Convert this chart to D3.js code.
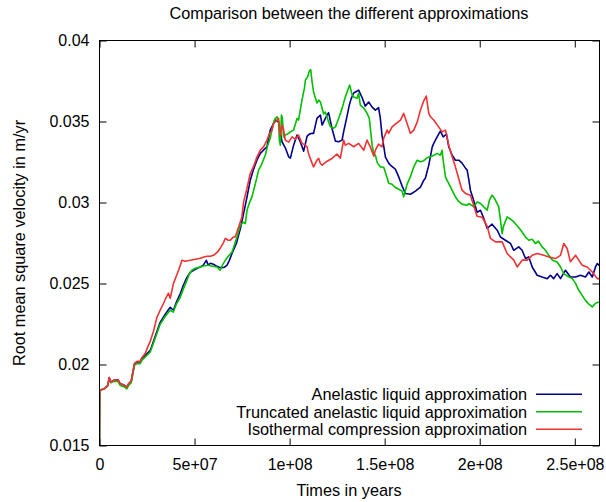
<!DOCTYPE html>
<html>
<head>
<meta charset="utf-8">
<script src="https://cdn.jsdelivr.net/npm/d3@7"></script>
<style>
  body { margin: 0; background: #fff; }
  svg text { font-family: "Liberation Sans", Arial, sans-serif; fill: #000; }
</style>
</head>
<body>
<svg id="chart" width="606" height="502"></svg>
<script>
// ---- data: time in millions of years, RMS velocity in m/yr ----
const anelasticT = [0, 0.1, 1.3, 3.0, 4.4, 5.1, 6.0, 7.4, 9.7, 10.9, 12.6, 14.4, 15.3, 16.7, 17.4, 18.4, 19.7, 21.4, 22.3,
  24.1, 26.7, 29.3, 31.9, 34.6, 37.2, 38.9, 40.4, 42.5, 44.1, 46.0, 47.7, 49.5, 51.4, 53.0, 54.6, 56.2, 57.2, 58.3, 59.9,
  61.8, 63.0, 64.4, 65.7, 67.1, 68.3, 69.7, 70.9, 72.0, 73.0, 74.1, 75.8, 77.6, 79.3, 80.9, 82.8, 84.6, 86.2, 88.1, 89.8,
  91.4, 92.5, 94.2, 95.1, 96.0, 97.7, 99.5, 100.4, 102.1, 103.9, 105.6, 107.4, 109.2, 110.4, 111.8, 112.6, 114.4, 116.2,
  117.1, 118.8, 120.5, 122.3, 124.1, 125.8, 127.6, 128.4, 130.2, 131.4, 132.3, 133.7, 134.6, 136.3, 138.1, 139.8, 141.6,
  143.4, 145.1, 146.8, 147.7, 148.6, 150.4, 152.1, 153.0, 155.6, 157.4, 159.2, 160.9, 163.6, 166.2, 168.8, 170.6, 171.4,
  173.2, 175.0, 175.8, 177.6, 179.3, 180.8, 182.5, 183.7, 185.5, 187.2, 189.0, 190.7, 192.5, 193.4, 194.3, 195.1, 196.8,
  198.6, 200.4, 202.1, 203.9, 206.5, 209.2, 210.9, 213.5, 216.2, 217.9, 220.5, 222.3, 224.1, 225.8, 227.6, 230.2, 232.8,
  235.5, 237.2, 238.9, 240.7, 242.5, 245.1, 247.7, 250.4, 253.0, 255.6, 257.4, 259.2, 260.9, 261.8, 263.5];
const anelasticV = [0.015, 0.0184, 0.01846, 0.01854, 0.01871, 0.01919, 0.01891, 0.01902, 0.01906, 0.01881, 0.01875, 0.0186, 0.01881, 0.01898, 0.01943, 0.02005, 0.02015, 0.02015, 0.02036,
  0.02056, 0.02087, 0.02174, 0.0226, 0.0231, 0.02353, 0.02335, 0.02384, 0.02438, 0.02489, 0.02538, 0.02569, 0.02582, 0.02594, 0.02602, 0.02613, 0.02643, 0.02613, 0.02625, 0.02619,
  0.02606, 0.026, 0.02598, 0.026, 0.02613, 0.02643, 0.02685, 0.02718, 0.02747, 0.02792, 0.02839, 0.02932, 0.03035, 0.03138, 0.032, 0.03261, 0.03303, 0.03323, 0.03344, 0.03447,
  0.03484, 0.03509, 0.03496, 0.03435, 0.03375, 0.03339, 0.03282, 0.03274, 0.03354, 0.03416, 0.03375, 0.03317, 0.0341, 0.03422, 0.03427, 0.03427, 0.03519, 0.0354,
  0.03478, 0.03519, 0.03555, 0.03457, 0.03379, 0.03375, 0.03385, 0.03436, 0.03533, 0.03601, 0.03638, 0.03676, 0.03682, 0.03694, 0.03648, 0.03595, 0.0362,
  0.03589, 0.0357, 0.03586, 0.03521, 0.03416, 0.0328, 0.03243, 0.03231, 0.03206, 0.03158, 0.03101, 0.03056, 0.03051, 0.0307, 0.03095, 0.03138, 0.0315,
  0.03231, 0.03342, 0.03365, 0.03405, 0.03441, 0.03405, 0.03422, 0.03344, 0.03292, 0.03261, 0.03261, 0.03243, 0.03212, 0.032, 0.03138, 0.03076, 0.03014,
  0.0294, 0.02952, 0.02903, 0.02841, 0.02866, 0.02829, 0.02787, 0.02767, 0.02747, 0.02705, 0.02726, 0.02705, 0.02654, 0.02664, 0.02602, 0.02551, 0.0254,
  0.0253, 0.02551, 0.0253, 0.02561, 0.0253, 0.02582, 0.0254, 0.0254, 0.02551, 0.0254, 0.02571, 0.0254, 0.02602, 0.02623, 0.02606];

const truncatedT = [0, 0.1, 1.3, 3.0, 4.4, 5.1, 6.0, 7.4, 9.7, 10.9, 12.6, 14.4, 15.3, 16.7, 17.4, 18.4, 19.7, 21.4, 22.3,
  24.1, 26.7, 29.3, 31.9, 34.6, 37.2, 38.8, 40.4, 42.5, 44.1, 46.0, 47.2, 48.6, 50.4, 53.0, 55.1, 57.4, 59.3, 61.8, 63.5,
  64.6, 66.2, 67.7, 69.7, 70.9, 72.3, 74.1, 75.6, 76.7, 77.6, 78.8, 80.2, 82.0, 83.7, 85.1, 87.2, 88.5, 89.8, 91.6, 92.5,
  93.4, 94.2, 94.6, 95.1, 95.7, 96.2, 96.8, 97.7, 99.5, 100.4, 102.1, 103.9, 104.7, 106.5, 107.8, 108.3, 109.5, 110.4,
  111.1, 111.7, 112.6, 114.4, 115.3, 116.2, 117.9, 118.8, 120.5, 121.4, 123.2, 124.1, 125.8, 127.6, 129.3, 130.6, 131.6,
  132.9, 133.7, 135.5, 136.3, 137.2, 139.0, 140.7, 141.9, 143.4, 144.1, 145.1, 146.2, 147.7, 149.5, 151.3, 152.1, 153.9,
  155.6, 157.4, 159.2, 160.0, 161.8, 163.5, 165.3, 167.1, 168.8, 170.6, 172.4, 174.1, 175.8, 177.6, 179.3, 180.2, 180.9,
  182.0, 184.6, 187.2, 188.8, 190.7, 193.4, 194.3, 196.9, 198.6, 200.4, 202.1, 203.9, 205.1, 206.5, 207.7, 210.0, 210.9,
  211.8, 212.5, 214.4, 216.2, 217.9, 220.4, 222.3, 224.1, 225.8, 227.6, 229.3, 230.9, 232.8, 234.6, 236.3, 238.3, 240.7,
  242.5, 244.2, 246.2, 248.7, 250.4, 252.1, 253.9, 255.6, 257.4, 259.2, 260.9, 262.7];
const truncatedV = [0.015, 0.0184, 0.01846, 0.01854, 0.01871, 0.01915, 0.01887, 0.01896, 0.01896, 0.01871, 0.01865, 0.0185, 0.01871, 0.01888, 0.01933, 0.01995, 0.02005, 0.02005, 0.02026,
  0.02047, 0.02077, 0.02162, 0.02248, 0.02298, 0.02335, 0.02323, 0.02372, 0.02415, 0.02465, 0.0252, 0.02557, 0.02582, 0.02594, 0.02602, 0.0261, 0.02613, 0.02606, 0.02602, 0.02582,
  0.02613, 0.02643, 0.02668, 0.02695, 0.02736, 0.02787, 0.0286, 0.02878, 0.0287, 0.02952, 0.02996, 0.03035, 0.03117, 0.032, 0.03231, 0.03292, 0.03354, 0.03396, 0.03496, 0.03519,
  0.03529, 0.03498, 0.03385, 0.03354, 0.0354, 0.03521, 0.03405, 0.03416, 0.03427, 0.03436, 0.03447, 0.03519, 0.03509, 0.03632, 0.03706, 0.03756, 0.03776, 0.03812,
  0.03821, 0.03756, 0.03682, 0.03614, 0.03632, 0.0362, 0.03546, 0.03558, 0.03498, 0.03467, 0.03459, 0.03467, 0.03519, 0.03581, 0.03651, 0.03694, 0.03725,
  0.03663, 0.03651, 0.03643, 0.03674, 0.03601, 0.03583, 0.03552, 0.03521, 0.03354, 0.03311, 0.03292, 0.03243, 0.0322, 0.03218, 0.03153, 0.03119, 0.03113,
  0.03092, 0.03082, 0.0307, 0.03035, 0.03113, 0.03158, 0.0322, 0.03261, 0.03251, 0.03258, 0.03277, 0.03282, 0.03292, 0.03303, 0.03292, 0.03323, 0.03249,
  0.03156, 0.03096, 0.03035, 0.03008, 0.0299, 0.02983, 0.02994, 0.02973, 0.03004, 0.02994, 0.02973, 0.02952, 0.03014, 0.03045, 0.03027, 0.02973, 0.02891,
  0.02808, 0.02854, 0.02911, 0.02897, 0.0288, 0.02847, 0.02818, 0.02786, 0.02767, 0.02773, 0.02747, 0.02761, 0.02726, 0.02705, 0.02674, 0.02643, 0.02633,
  0.02602, 0.02561, 0.02545, 0.0253, 0.02501, 0.02458, 0.02427, 0.02396, 0.02372, 0.02355, 0.02378, 0.02386];

const isothermalT = [0, 0.1, 1.3, 3.0, 4.4, 5.1, 6.0, 7.4, 9.7, 10.9, 12.6, 14.4, 15.3, 16.7, 17.4, 18.4, 19.7, 21.4, 22.3,
  24.1, 25.5, 26.7, 28.4, 30.2, 31.9, 33.7, 35.1, 36.3, 37.2, 38.9, 40.4, 41.6, 43.4, 45.1, 47.7, 50.4, 53.0, 54.6, 56.5,
  58.3, 60.0, 62.0, 63.5, 65.1, 66.2, 67.7, 68.8, 70.3, 71.4, 73.2, 74.9, 75.8, 77.6, 79.3, 81.1, 82.8, 84.6, 86.3, 88.1,
  89.3, 90.7, 91.6, 93.4, 94.2, 95.1, 96.0, 96.7, 97.7, 99.5, 101.3, 103.0, 104.7, 106.5, 108.3, 109.2, 110.0, 111.8,
  112.6, 114.4, 115.3, 116.2, 117.1, 119.7, 122.3, 124.9, 126.7, 128.4, 129.3, 131.1, 133.7, 136.3, 139.0, 140.7, 142.5,
  144.3, 145.1, 146.8, 148.6, 149.5, 151.3, 152.1, 153.9, 155.6, 158.3, 160.0, 161.8, 163.5, 165.3, 167.1, 168.8, 170.5,
  171.9, 173.2, 174.1, 175.8, 178.4, 180.2, 182.0, 183.7, 185.5, 187.2, 188.9, 190.7, 192.5, 195.1, 196.8, 198.6, 201.3,
  203.9, 205.6, 208.3, 211.8, 214.4, 217.9, 219.7, 222.3, 225.0, 227.6, 230.2, 233.7, 236.3, 239.8, 242.5, 244.2, 246.0,
  247.7, 250.4, 252.1, 253.9, 256.5, 259.2, 261.8, 263.5];
const isothermalV = [0.015, 0.0184, 0.01846, 0.01854, 0.01871, 0.01919, 0.01891, 0.01902, 0.01906, 0.01881, 0.01875, 0.0186, 0.01881, 0.01898, 0.01943, 0.02005, 0.0202, 0.0202, 0.02042,
  0.02069, 0.02112, 0.02143, 0.02205, 0.02291, 0.02335, 0.02378, 0.02415, 0.0244, 0.02409, 0.02501, 0.02545, 0.02582, 0.02643, 0.02637, 0.02643, 0.0265, 0.02656, 0.02662, 0.02668,
  0.02668, 0.02674, 0.02693, 0.02718, 0.02749, 0.02779, 0.02767, 0.02767, 0.02786, 0.02788, 0.02849, 0.02911, 0.03004, 0.03088, 0.03179, 0.03224, 0.0328, 0.03323, 0.03344, 0.03385,
  0.03422, 0.03447, 0.03488, 0.03509, 0.03519, 0.0341, 0.03478, 0.03459, 0.03385, 0.03373, 0.03405, 0.03391, 0.03416, 0.03365, 0.03354, 0.03342, 0.03299, 0.03243,
  0.0322, 0.03262, 0.03272, 0.03241, 0.03231, 0.03255, 0.03272, 0.03299, 0.03274, 0.03385, 0.03354, 0.03365, 0.03344, 0.03365, 0.03323, 0.03385, 0.03342,
  0.03286, 0.03323, 0.0336, 0.03344, 0.03397, 0.03447, 0.03427, 0.03467, 0.03484, 0.03509, 0.0355, 0.03488, 0.03427, 0.03447, 0.03496, 0.0357, 0.03626,
  0.03657, 0.0355, 0.03529, 0.03509, 0.03467, 0.03436, 0.03447, 0.03354, 0.03282, 0.0322, 0.0315, 0.03076, 0.03056, 0.03045, 0.02983, 0.02915, 0.02909,
  0.02854, 0.02779, 0.02757, 0.02757, 0.02685, 0.02644, 0.02602, 0.02644, 0.02644, 0.02674, 0.02685, 0.02674, 0.02664, 0.02654, 0.02674, 0.02747, 0.02716,
  0.02634, 0.02674, 0.02644, 0.02613, 0.02602, 0.02571, 0.0253, 0.0253];

const seriesLabels = ["Anelastic liquid approximation", "Truncated anelastic liquid approximation", "Isothermal compression approximation"];
const seriesColors = ["#00008b", "#00c000", "#f03232"];

const xTicks = [0, 5e7, 1e8, 1.5e8, 2e8, 2.5e8];
const xTickLabels = ["0", "5e+07", "1e+08", "1.5e+08", "2e+08", "2.5e+08"];
const yTicks = [0.015, 0.02, 0.025, 0.03, 0.035, 0.04];
const yTickLabels = ["0.015", "0.02", "0.025", "0.03", "0.035", "0.04"];
const xMax = 2.63e8;

// ---- layout ----
const plotLeft = 99.5, plotRight = 599.5, plotTop = 40.5, plotBottom = 445.5;

const svg = d3.select("#chart");
const x = d3.scaleLinear().domain([0, xMax]).range([plotLeft, plotRight]);
const y = d3.scaleLinear().domain([0.015, 0.04]).range([plotBottom, plotTop]);

const series = [
  { t: anelasticT, v: anelasticV },
  { t: truncatedT, v: truncatedV },
  { t: isothermalT, v: isothermalV }
].map((s, i) => ({
  label: seriesLabels[i],
  color: seriesColors[i],
  points: s.t.map((tm, k) => ({ t: tm * 1e6, v: s.v[k] }))
}));

svg.append("defs").append("clipPath").attr("id", "plotclip")
  .append("rect").attr("x", plotLeft).attr("y", plotTop)
  .attr("width", plotRight - plotLeft).attr("height", plotBottom - plotTop);

// ---- axes (ticks point inward on all four sides) ----
const tickLen = 7;
const fontSize = 16;
const labelFontSize = 16.3;

const gx = svg.append("g").attr("transform", `translate(0,${plotBottom})`)
  .call(d3.axisBottom(x).tickValues(xTicks).tickFormat((d, i) => xTickLabels[i])
    .tickSizeInner(-tickLen).tickSizeOuter(0).tickPadding(13));
const gxTop = svg.append("g").attr("transform", `translate(0,${plotTop})`)
  .call(d3.axisTop(x).tickValues(xTicks).tickFormat("").tickSizeInner(-tickLen).tickSizeOuter(0));
const gy = svg.append("g").attr("transform", `translate(${plotLeft},0)`)
  .call(d3.axisLeft(y).tickValues(yTicks).tickFormat((d, i) => yTickLabels[i])
    .tickSizeInner(-tickLen).tickSizeOuter(0).tickPadding(10));
const gyRight = svg.append("g").attr("transform", `translate(${plotRight},0)`)
  .call(d3.axisRight(y).tickValues(yTicks).tickFormat("").tickSizeInner(-tickLen).tickSizeOuter(0));

[gx, gxTop, gy, gyRight].forEach(g => {
  g.select(".domain").remove();
  g.selectAll(".tick line").attr("stroke", "#000").attr("stroke-width", 1);
  g.selectAll(".tick text").attr("font-size", fontSize).attr("font-family", null).attr("fill", "#000");
});

// ---- data lines ----
const line = d3.line().x(d => x(d.t)).y(d => y(d.v));
svg.append("g").attr("clip-path", "url(#plotclip)")
  .selectAll("path").data(series).join("path")
  .attr("d", d => line(d.points))
  .attr("fill", "none")
  .attr("stroke", d => d.color)
  .attr("stroke-width", 1.6)
  .attr("stroke-linejoin", "round");

// ---- frame ----
svg.append("rect").attr("x", plotLeft).attr("y", plotTop)
  .attr("width", plotRight - plotLeft).attr("height", plotBottom - plotTop)
  .attr("fill", "none").attr("stroke", "#000").attr("stroke-width", 1);

// ---- legend ----
const legendTextRight = 527, legendLineX1 = 536, legendLineX2 = 582;
const legendY0 = 394.3, legendDy = 17.5;
const legend = svg.append("g").selectAll("g").data(series).join("g")
  .attr("transform", (d, i) => `translate(0,${legendY0 + i * legendDy})`);
legend.append("text").attr("x", legendTextRight).attr("y", 0).attr("dy", "0.35em")
  .attr("text-anchor", "end").attr("font-size", labelFontSize).text(d => d.label);
legend.append("line").attr("x1", legendLineX1).attr("x2", legendLineX2)
  .attr("stroke", d => d.color).attr("stroke-width", 1.6);

// ---- titles ----
svg.append("text").attr("x", 349).attr("y", 19)
  .attr("text-anchor", "middle").attr("font-size", labelFontSize)
  .text("Comparison between the different approximations");
svg.append("text").attr("x", 349).attr("y", 496)
  .attr("text-anchor", "middle").attr("font-size", labelFontSize)
  .text("Times in years");
svg.append("text").attr("transform", `translate(24.5,${(plotTop + plotBottom) / 2}) rotate(-90)`)
  .attr("text-anchor", "middle").attr("font-size", labelFontSize)
  .text("Root mean square velocity in m/yr");
</script>
</body>
</html>
